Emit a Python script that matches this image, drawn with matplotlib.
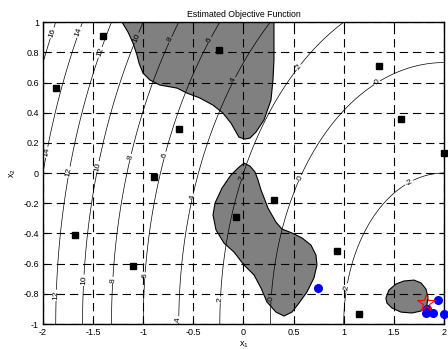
import numpy as np
import matplotlib.pyplot as plt
from matplotlib.patches import Polygon

plt.rcParams['font.family'] = ['Liberation Sans', 'DejaVu Sans']
plt.rcParams['mathtext.fontset'] = 'custom'
plt.rcParams['mathtext.rm'] = 'Liberation Sans'
plt.rcParams['mathtext.it'] = 'Liberation Sans'
plt.rcParams['axes.unicode_minus'] = False
plt.rcParams['lines.scale_dashes'] = False

# estimated objective: quadratic bowl centred at the lower right corner
bowl_center = (2.0, -1.0)
bowl_offset = -3.0
levels = np.arange(-2, 17, 2)

# sampled points
samples_x = [-1.40, -1.87, -0.244, -0.643, -0.893, 1.352, 1.571, 2.0,
             -1.68, -1.10, 0.304, -0.075, 0.933, 1.152]
samples_y = [0.907, 0.563, 0.815, 0.291, -0.026, 0.709, 0.358, 0.132,
             -0.411, -0.616, -0.179, -0.291, -0.517, -0.934]

# candidate points
cand_x = [0.743, 1.82, 1.89, 1.83, 1.94, 2.0]
cand_y = [-0.762, -0.927, -0.927, -0.90, -0.84, -0.934]

# best point
best_x = [1.82]
best_y = [-0.86]

# infeasible regions (outlines)
region_top = [(-1.212, 1.0), (-1.152, 0.934), (-1.102, 0.861), (-1.062, 0.781),
              (-1.042, 0.728), (-1.002, 0.662), (-0.933, 0.616), (-0.833, 0.583),
              (-0.663, 0.563), (-0.564, 0.530), (-0.434, 0.497), (-0.304, 0.450),
              (-0.204, 0.397), (-0.125, 0.331), (-0.045, 0.238), (0.015, 0.225),
              (0.065, 0.232), (0.125, 0.272), (0.204, 0.351), (0.274, 0.483),
              (0.294, 0.616), (0.304, 0.748), (0.304, 1.0)]
region_mid = [(0.005, 0.066), (-0.055, 0.033), (-0.125, -0.013), (-0.214, -0.099),
              (-0.284, -0.199), (-0.304, -0.278), (-0.274, -0.377), (-0.194, -0.464),
              (-0.095, -0.523), (0.005, -0.609), (0.105, -0.675), (0.175, -0.762),
              (0.234, -0.854), (0.324, -0.921), (0.404, -0.947), (0.484, -0.921),
              (0.554, -0.861), (0.633, -0.788), (0.703, -0.695), (0.733, -0.609),
              (0.723, -0.543), (0.673, -0.477), (0.584, -0.430), (0.484, -0.397),
              (0.384, -0.371), (0.324, -0.325), (0.244, -0.232), (0.214, -0.179),
              (0.175, -0.113), (0.145, -0.046), (0.115, 0.007), (0.065, 0.046)]
region_low = [(1.421, -0.828), (1.451, -0.775), (1.521, -0.735), (1.601, -0.715),
              (1.701, -0.709), (1.771, -0.728), (1.820, -0.768), (1.840, -0.821),
              (1.830, -0.874), (1.771, -0.914), (1.681, -0.927), (1.571, -0.921),
              (1.481, -0.894), (1.431, -0.861)]

# where the contour labels go
label_pos = [(-1.90, 0.927), (-1.65, 0.934), (-1.43, 0.80), (-1.06, 0.894),
             (-0.72, 0.88), (-0.33, 0.88), (-0.095, 0.616), (0.554, 0.70),
             (1.33, 0.60), (-1.98, 0.14), (-1.75, 0.007), (-1.43, 0.04),
             (-1.13, 0.106), (-0.78, 0.12), (-0.50, -0.16), (-0.025, -0.03),
             (0.554, -0.03), (1.65, -0.06), (-1.86, -0.81), (-1.60, -0.71),
             (-1.30, -0.71), (-0.98, -0.68), (-0.65, -0.97), (-0.23, -0.84),
             (0.28, -0.83), (1.03, -0.76)]

xg = np.linspace(-2, 2, 401)
yg = np.linspace(-1, 1, 201)
X, Y = np.meshgrid(xg, yg)
Z = (X - bowl_center[0]) ** 2 + (Y - bowl_center[1]) ** 2 + bowl_offset

fig = plt.figure(figsize=(4.48, 3.49), dpi=100)
ax = fig.add_axes([0.096, 0.0716, 0.895, 0.865])

for reg in [region_top, region_mid, region_low]:
    ax.add_patch(Polygon(reg, closed=True, facecolor='#808080',
                         edgecolor='black', linewidth=0.8, zorder=1))

cs = ax.contour(X, Y, Z, levels=levels, colors='black', linewidths=0.5,
                linestyles='solid', zorder=2)
ax.clabel(cs, fmt='%d', fontsize=6, inline=True, inline_spacing=1,
          manual=label_pos)

ax.set_xlim(-2, 2)
ax.set_ylim(-1, 1)
ax.set_xticks(np.arange(-2, 2.01, 0.5))
ax.set_yticks(np.arange(-1, 1.01, 0.2))
ax.set_xticklabels(['-2', '-1.5', '-1', '-0.5', '0', '0.5', '1', '1.5', '2'])
ax.set_yticklabels(['-1', '-0.8', '-0.6', '-0.4', '-0.2', '0', '0.2', '0.4',
                    '0.6', '0.8', '1'])
ax.grid(True, color='black', linestyle=(0, (6, 3.5)), linewidth=0.8, zorder=3)
ax.set_axisbelow(False)
ax.tick_params(direction='in', length=3, width=0.8, labelsize=6.5, pad=3,
               top=True, right=True)
for sp in ax.spines.values():
    sp.set_linewidth(1.0)

ax.plot(samples_x, samples_y, 's', color='black', markersize=5, zorder=4,
        clip_on=False)
ax.plot(cand_x, cand_y, 'o', color='#0000ff', markersize=5.5, zorder=5,
        clip_on=False)
ax.plot(best_x, best_y, '*', markerfacecolor='none', markeredgecolor='red',
        markersize=13, markeredgewidth=0.8, zorder=6)

ax.set_title('Estimated Objective Function', fontsize=6.3, pad=4)
ax.set_xlabel('x$_1$', fontsize=6.5, labelpad=2)
ax.set_ylabel('x$_2$', fontsize=6.5, labelpad=4)

fig.savefig('out.png', dpi=100)
